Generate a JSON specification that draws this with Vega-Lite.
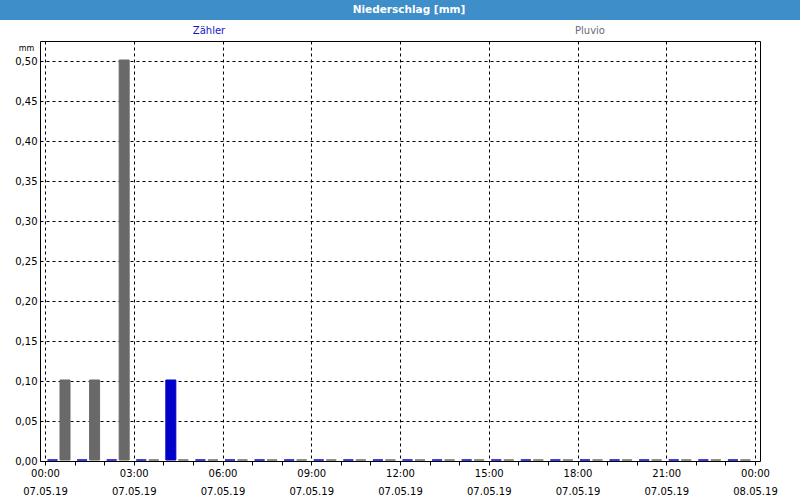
{
  "$schema": "https://vega.github.io/schema/vega-lite/v6.json",
  "padding": 0,
  "background": "white",
  "columns": 1,
  "align": "none",
  "spacing": 0,
  "resolve": {"scale": {"x": "independent", "y": "independent", "color": "independent"}},
  "concat": [
    {
      "width": 720,
      "height": 20,
      "view": {"fill": "#3d8ec9", "stroke": null},
      "data": {"values": [{"title": "Niederschlag [mm]", "start": 0, "end": 1, "lo": 0, "hi": 1}]},
      "layer": [
        {
          "mark": {"type": "rect", "color": "#3d8ec9", "clip": false},
          "encoding": {
            "x": {"field": "start", "type": "quantitative", "scale": {"domain": [0, 1], "range": [-40, 760]}, "axis": null},
            "x2": {"field": "end"},
            "y": {"field": "lo", "type": "quantitative", "scale": {"domain": [0, 1]}, "axis": null},
            "y2": {"field": "hi"}
          }
        },
        {
          "mark": {"type": "text", "font": "DejaVu Sans", "fontSize": 10.5, "fontWeight": "bold", "color": "white", "dx": 9},
          "encoding": {"text": {"field": "title", "type": "nominal"}}
        }
      ]
    },
    {
      "width": 762,
      "height": 20,
      "view": {"stroke": null},
      "data": {"values": [{"series": "Zähler"}, {"series": "Pluvio"}]},
      "mark": {"type": "text", "font": "DejaVu Sans", "fontSize": 10, "dx": -21.5, "dy": 1},
      "encoding": {
        "x": {"field": "series", "type": "nominal", "sort": null, "scale": {"domain": ["Zähler", "Pluvio"]}, "axis": null},
        "text": {"field": "series", "type": "nominal"},
        "color": {"field": "series", "type": "nominal", "scale": {"domain": ["Zähler", "Pluvio"], "range": ["#1414cc", "#6a6a78"]}, "legend": null}
      }
    },
    {
      "width": 720,
      "height": 420,
      "view": {"stroke": "black", "strokeWidth": 1, "fill": "white"},
      "data": {
        "values": [
          {"t": "2019-05-07T00:00:00", "series": "Zähler", "value": 0},
          {"t": "2019-05-07T01:00:00", "series": "Zähler", "value": 0},
          {"t": "2019-05-07T02:00:00", "series": "Zähler", "value": 0},
          {"t": "2019-05-07T03:00:00", "series": "Zähler", "value": 0},
          {"t": "2019-05-07T04:00:00", "series": "Zähler", "value": 0.1},
          {"t": "2019-05-07T05:00:00", "series": "Zähler", "value": 0},
          {"t": "2019-05-07T06:00:00", "series": "Zähler", "value": 0},
          {"t": "2019-05-07T07:00:00", "series": "Zähler", "value": 0},
          {"t": "2019-05-07T08:00:00", "series": "Zähler", "value": 0},
          {"t": "2019-05-07T09:00:00", "series": "Zähler", "value": 0},
          {"t": "2019-05-07T10:00:00", "series": "Zähler", "value": 0},
          {"t": "2019-05-07T11:00:00", "series": "Zähler", "value": 0},
          {"t": "2019-05-07T12:00:00", "series": "Zähler", "value": 0},
          {"t": "2019-05-07T13:00:00", "series": "Zähler", "value": 0},
          {"t": "2019-05-07T14:00:00", "series": "Zähler", "value": 0},
          {"t": "2019-05-07T15:00:00", "series": "Zähler", "value": 0},
          {"t": "2019-05-07T16:00:00", "series": "Zähler", "value": 0},
          {"t": "2019-05-07T17:00:00", "series": "Zähler", "value": 0},
          {"t": "2019-05-07T18:00:00", "series": "Zähler", "value": 0},
          {"t": "2019-05-07T19:00:00", "series": "Zähler", "value": 0},
          {"t": "2019-05-07T20:00:00", "series": "Zähler", "value": 0},
          {"t": "2019-05-07T21:00:00", "series": "Zähler", "value": 0},
          {"t": "2019-05-07T22:00:00", "series": "Zähler", "value": 0},
          {"t": "2019-05-07T23:00:00", "series": "Zähler", "value": 0},
          {"t": "2019-05-07T00:00:00", "series": "Pluvio", "value": 0.1},
          {"t": "2019-05-07T01:00:00", "series": "Pluvio", "value": 0.1},
          {"t": "2019-05-07T02:00:00", "series": "Pluvio", "value": 0.5},
          {"t": "2019-05-07T03:00:00", "series": "Pluvio", "value": 0},
          {"t": "2019-05-07T04:00:00", "series": "Pluvio", "value": 0},
          {"t": "2019-05-07T05:00:00", "series": "Pluvio", "value": 0},
          {"t": "2019-05-07T06:00:00", "series": "Pluvio", "value": 0},
          {"t": "2019-05-07T07:00:00", "series": "Pluvio", "value": 0},
          {"t": "2019-05-07T08:00:00", "series": "Pluvio", "value": 0},
          {"t": "2019-05-07T09:00:00", "series": "Pluvio", "value": 0},
          {"t": "2019-05-07T10:00:00", "series": "Pluvio", "value": 0},
          {"t": "2019-05-07T11:00:00", "series": "Pluvio", "value": 0},
          {"t": "2019-05-07T12:00:00", "series": "Pluvio", "value": 0},
          {"t": "2019-05-07T13:00:00", "series": "Pluvio", "value": 0},
          {"t": "2019-05-07T14:00:00", "series": "Pluvio", "value": 0},
          {"t": "2019-05-07T15:00:00", "series": "Pluvio", "value": 0},
          {"t": "2019-05-07T16:00:00", "series": "Pluvio", "value": 0},
          {"t": "2019-05-07T17:00:00", "series": "Pluvio", "value": 0},
          {"t": "2019-05-07T18:00:00", "series": "Pluvio", "value": 0},
          {"t": "2019-05-07T19:00:00", "series": "Pluvio", "value": 0},
          {"t": "2019-05-07T20:00:00", "series": "Pluvio", "value": 0},
          {"t": "2019-05-07T21:00:00", "series": "Pluvio", "value": 0},
          {"t": "2019-05-07T22:00:00", "series": "Pluvio", "value": 0},
          {"t": "2019-05-07T23:00:00", "series": "Pluvio", "value": 0}
        ]
      },
      "encoding": {
        "x": {
          "field": "t",
          "type": "temporal",
          "scale": {
            "domain": [
              {"year": 2019, "month": 5, "date": 7, "hours": 0},
              {"year": 2019, "month": 5, "date": 8, "hours": 0}
            ],
            "nice": false
          },
          "axis": {
            "title": null,
            "values": [
              {"year": 2019, "month": 5, "date": 7, "hours": 0},
              {"year": 2019, "month": 5, "date": 7, "hours": 1},
              {"year": 2019, "month": 5, "date": 7, "hours": 2},
              {"year": 2019, "month": 5, "date": 7, "hours": 3},
              {"year": 2019, "month": 5, "date": 7, "hours": 4},
              {"year": 2019, "month": 5, "date": 7, "hours": 5},
              {"year": 2019, "month": 5, "date": 7, "hours": 6},
              {"year": 2019, "month": 5, "date": 7, "hours": 7},
              {"year": 2019, "month": 5, "date": 7, "hours": 8},
              {"year": 2019, "month": 5, "date": 7, "hours": 9},
              {"year": 2019, "month": 5, "date": 7, "hours": 10},
              {"year": 2019, "month": 5, "date": 7, "hours": 11},
              {"year": 2019, "month": 5, "date": 7, "hours": 12},
              {"year": 2019, "month": 5, "date": 7, "hours": 13},
              {"year": 2019, "month": 5, "date": 7, "hours": 14},
              {"year": 2019, "month": 5, "date": 7, "hours": 15},
              {"year": 2019, "month": 5, "date": 7, "hours": 16},
              {"year": 2019, "month": 5, "date": 7, "hours": 17},
              {"year": 2019, "month": 5, "date": 7, "hours": 18},
              {"year": 2019, "month": 5, "date": 7, "hours": 19},
              {"year": 2019, "month": 5, "date": 7, "hours": 20},
              {"year": 2019, "month": 5, "date": 7, "hours": 21},
              {"year": 2019, "month": 5, "date": 7, "hours": 22},
              {"year": 2019, "month": 5, "date": 7, "hours": 23},
              {"year": 2019, "month": 5, "date": 8, "hours": 0}
            ],
            "labelExpr": "hours(datum.value) % 3 === 0 ? [timeFormat(datum.value, '%H:%M'), timeFormat(datum.value, '%d.%m.%y')] : ''",
            "labelOverlap": false,
            "labelFlush": false,
            "labelBound": false,
            "labelFont": "DejaVu Sans",
            "labelFontSize": 10,
            "labelColor": "black",
            "labelLineHeight": 18,
            "labelPadding": 3,
            "labelBaseline": "top",
            "grid": true,
            "gridColor": "black",
            "gridDash": [3, 3],
            "gridWidth": 1,
            "gridOpacity": {"condition": {"test": "hours(datum.value) % 3 === 0", "value": 1}, "value": 0},
            "ticks": true,
            "tickSize": 4,
            "tickColor": "black",
            "domain": false
          }
        },
        "y": {
          "field": "value",
          "type": "quantitative",
          "scale": {"domain": [0, 0.525], "nice": false, "zero": true},
          "axis": {
            "values": [0, 0.05, 0.1, 0.15, 0.2, 0.25, 0.3, 0.35, 0.4, 0.45, 0.5],
            "labelExpr": "replace(format(datum.value, '.2f'), '.', ',')",
            "labelFont": "DejaVu Sans",
            "labelFontSize": 10,
            "labelColor": "black",
            "labelPadding": 3,
            "grid": true,
            "gridColor": "black",
            "gridDash": [3, 3],
            "gridWidth": 1,
            "ticks": false,
            "domain": false,
            "title": "mm",
            "titleAngle": 0,
            "titleX": -14,
            "titleY": 7,
            "titleAlign": "center",
            "titleBaseline": "middle",
            "titleFont": "DejaVu Sans",
            "titleFontSize": 8,
            "titleFontWeight": "normal",
            "titleColor": "black",
            "minExtent": 36,
            "maxExtent": 36
          }
        },
        "color": {
          "field": "series",
          "type": "nominal",
          "scale": {"domain": ["Zähler", "Pluvio"], "range": ["#0000c8", "#696969"]},
          "legend": null
        }
      },
      "layer": [
        {
          "transform": [{"filter": "datum.series === 'Zähler'"}],
          "mark": {"type": "bar", "width": 10, "xOffset": 7.5, "yOffset": -1, "stroke": "#0000c8", "strokeWidth": 1}
        },
        {
          "transform": [{"filter": "datum.series === 'Pluvio'"}],
          "mark": {"type": "bar", "width": 10, "xOffset": 20, "yOffset": -1, "stroke": "#696969", "strokeWidth": 1}
        }
      ]
    }
  ]
}
